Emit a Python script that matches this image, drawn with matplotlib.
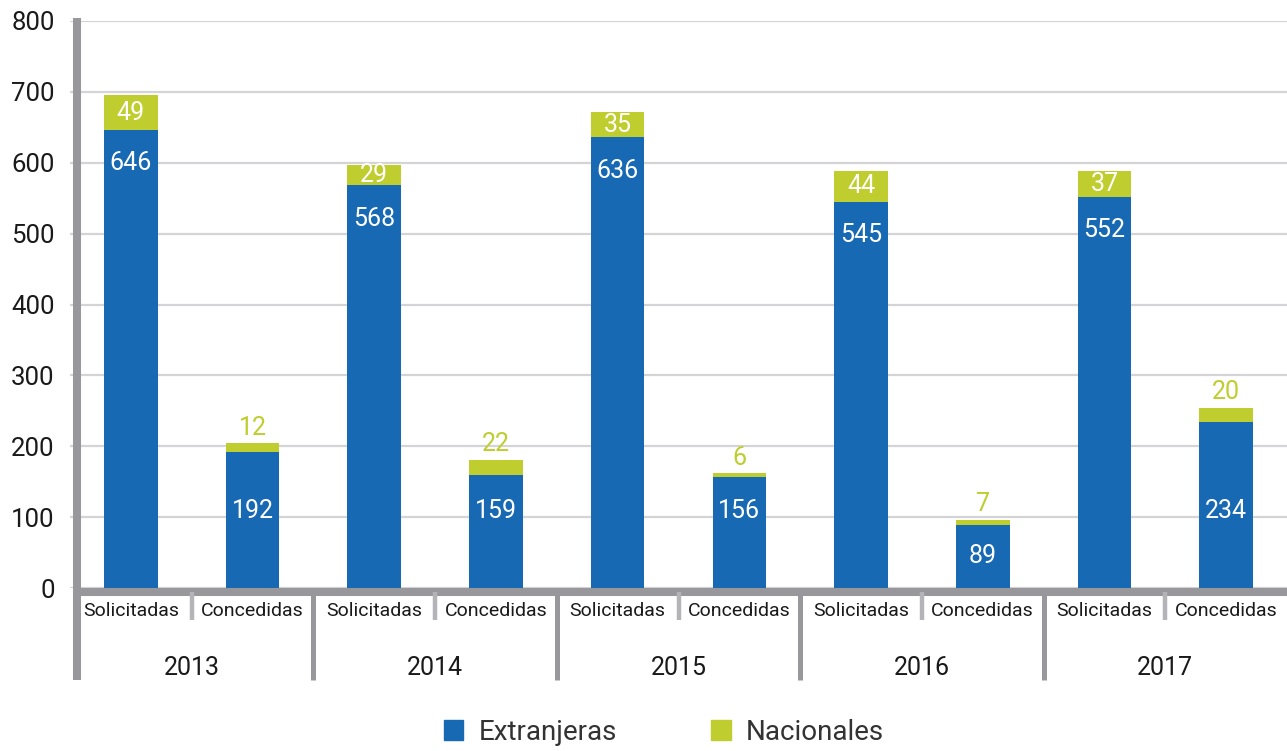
import matplotlib
matplotlib.use('Agg')
import matplotlib.pyplot as plt
from matplotlib.patches import Patch

plt.rcParams['font.family'] = ['Roboto', 'DejaVu Sans']

years = ['2013', '2014', '2015', '2016', '2017']
kinds = ['Solicitadas', 'Concedidas']
extranjeras = [646, 192, 568, 159, 636, 156, 545, 89, 552, 234]
nacionales = [49, 12, 29, 22, 35, 6, 44, 7, 37, 20]

BLUE = '#1769b3'
GREEN = '#bfcd2e'
GRAY = '#98989c'
TXT = '#1a1a1a'

fig = plt.figure(figsize=(12.87, 7.51), dpi=100)
ax = fig.add_axes([70 / 1287, 1 - 588 / 751, 1217 / 1287, 567 / 751])

x = [i + 0.5 for i in range(len(extranjeras))]

ax.bar(x, extranjeras, width=0.44, color=BLUE, zorder=2)
ax.bar(x, nacionales, width=0.44, bottom=extranjeras, color=GREEN, zorder=2)

# value labels
for i, (e, n) in enumerate(zip(extranjeras, nacionales)):
    if i % 2 == 0:
        # tall bars: both labels inside
        ax.text(x[i], e - 47, str(e), ha='center', va='center', color='white', fontsize=18, zorder=3)
        ax.text(x[i], e + n / 2, str(n), ha='center', va='center', color='white', fontsize=18, zorder=3)
    else:
        ey = 108 if e > 140 else e / 2
        ax.text(x[i], ey, str(e), ha='center', va='center', color='white', fontsize=18, zorder=3)
        ax.text(x[i], e + n + 22, str(n), ha='center', va='center', color=GREEN, fontsize=18, zorder=3)

ax.set_xlim(0, 10)
ax.set_ylim(0, 800)
ax.set_yticks(range(0, 801, 100))
ax.yaxis.grid(True, color='#d4d4d6', linewidth=1.6, zorder=0)
ax.set_axisbelow(True)
ax.set_xticks([])
ax.tick_params(axis='y', length=0, pad=11, labelsize=18.5, labelcolor=TXT)
for s in ax.spines.values():
    s.set_visible(False)

tr = ax.get_xaxis_transform()
# left axis line
ax.plot([0.06, 0.06], [1.005, -0.162], transform=tr, color=GRAY, lw=5.8,
        solid_capstyle='butt', clip_on=False, zorder=4)
# bottom axis line
ax.plot([0.06, 10], [-0.007, -0.007], transform=tr, color=GRAY, lw=5.8,
        solid_capstyle='butt', clip_on=False, zorder=4)
# group separators
for g in range(1, len(years)):
    ax.plot([2 * g, 2 * g], [-0.007, -0.162], transform=tr, color=GRAY, lw=3.6,
            solid_capstyle='butt', clip_on=False, zorder=4)
# sub separators
for g in range(len(years)):
    ax.plot([2 * g + 1, 2 * g + 1], [-0.007, -0.056], transform=tr, color='#b4b4b8', lw=3.2,
            solid_capstyle='butt', clip_on=False, zorder=4)

# category labels
for i in range(len(extranjeras)):
    ax.text(x[i], -0.041, kinds[i % 2], transform=tr, ha='center', va='center',
            fontsize=14, color=TXT)
for g, yr in enumerate(years):
    ax.text(2 * g + 1, -0.141, yr, transform=tr, ha='center', va='center',
            fontsize=18, color=TXT)

handles = [Patch(color=BLUE, label='Extranjeras'), Patch(color=GREEN, label='Nacionales')]
fig.legend(handles=handles, loc='center', bbox_to_anchor=(0.516, 0.025), ncol=2,
           frameon=False, fontsize=20, handlelength=0.7, handleheight=0.7,
           columnspacing=3.4, handletextpad=0.55, labelcolor='#333333')

fig.savefig('out.png', dpi=100)
